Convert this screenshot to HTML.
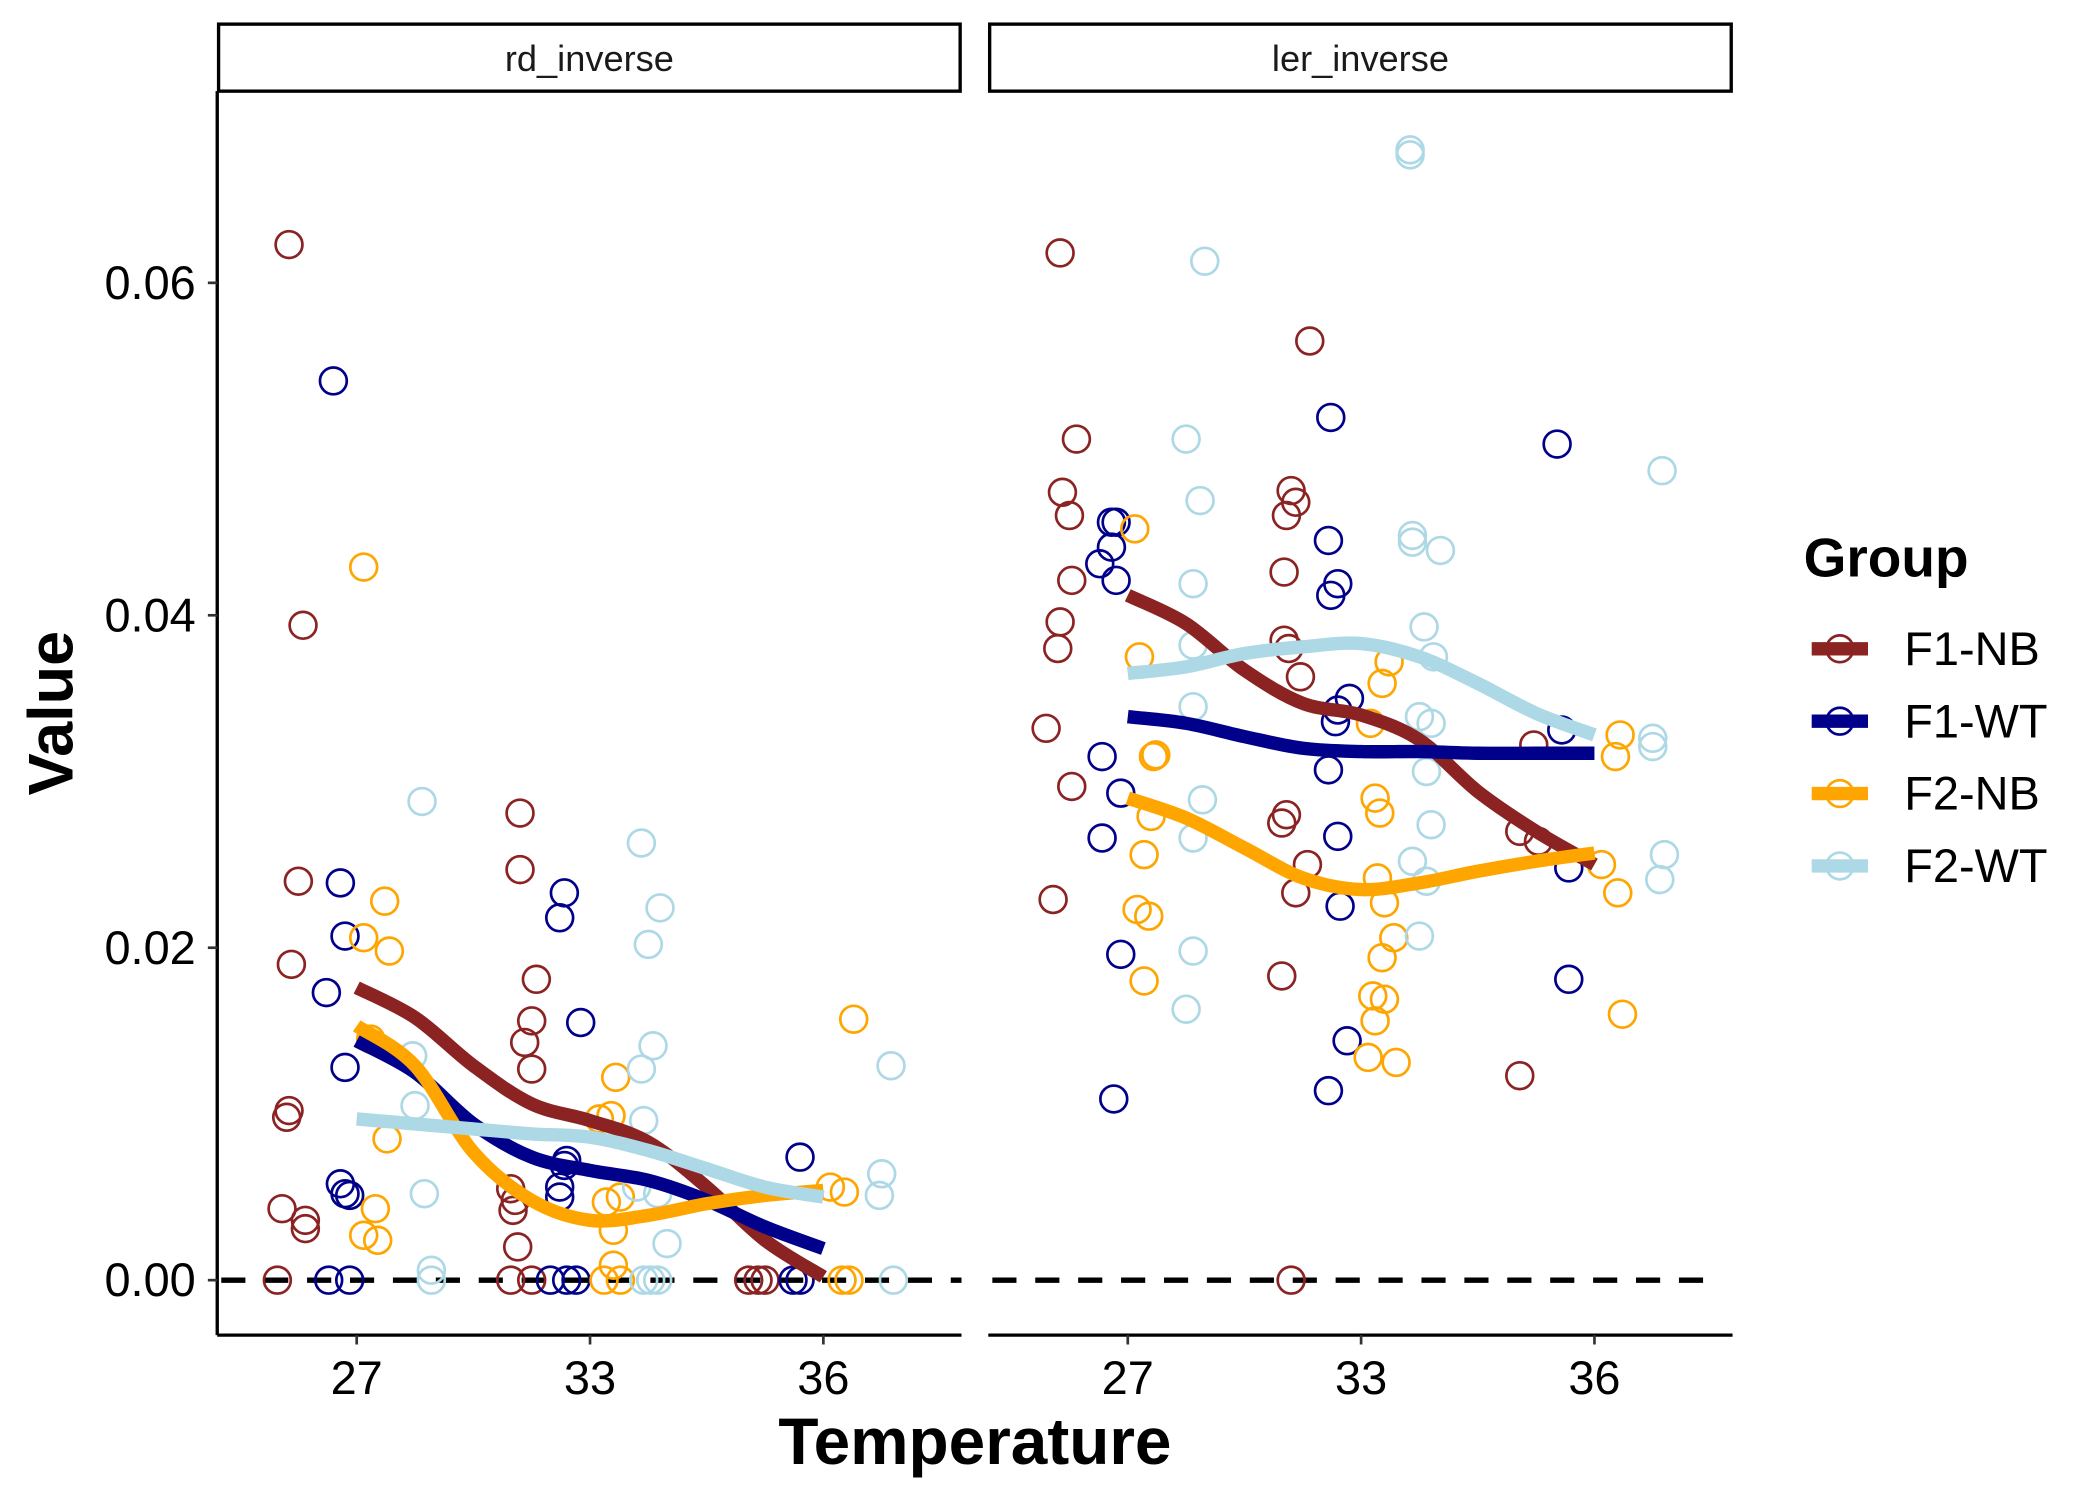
<!DOCTYPE html>
<html><head><meta charset="utf-8"><style>
html,body{margin:0;padding:0;background:#fff;}
svg{display:block;}
text{font-family:"Liberation Sans",sans-serif;}
</style></head><body>
<svg id="chart" width="2100" height="1500" viewBox="0 0 1566 1119" preserveAspectRatio="none" xmlns="http://www.w3.org/2000/svg">
<rect x="0" y="0" width="1566" height="1119" fill="#fff"/>
<g id="g"></g>
</svg>
<script>
const groups = ["F1-NB","F1-WT","F2-NB","F2-WT"];
const colors = ["#8B2323","#00008B","#FFA500","#ADD8E6"];
const panels = ["rd_inverse","ler_inverse"];
const xTickLabels = ["27","33","36"];
const yTicks = [0,0.02,0.04,0.06];
const yTickLabels = ["0.00","0.02","0.04","0.06"];
const smoothX = [1,1.25,1.5,1.75,2,2.25,2.5,2.75,3];

// points: [jittered category position, value]
const rd_F1NB = [[0.71,0.0623],[0.77,0.0394],[0.75,0.0240],[0.72,0.0190],[0.71,0.0102],[0.70,0.0098],[0.68,0.0043],[0.78,0.0036],[0.78,0.0031],[0.66,0],[1.70,0.0281],[1.70,0.0247],[1.77,0.0181],[1.75,0.0156],[1.72,0.0143],[1.75,0.0127],[1.66,0.0055],[1.67,0.0042],[1.68,0.0048],[1.69,0.0020],[1.66,0],[1.75,0],[2.68,0],[2.75,0],[2.72,0]];
const rd_F1WT = [[0.90,0.0541],[0.93,0.0239],[0.95,0.0207],[0.87,0.0173],[0.95,0.0128],[0.93,0.0058],[0.95,0.0052],[0.97,0.0051],[0.88,0],[0.97,0],[1.89,0.0233],[1.87,0.0218],[1.96,0.0155],[1.89,0.0069],[1.87,0.0056],[1.90,0.0072],[1.87,0.0050],[1.83,0],[1.90,0],[1.94,0],[2.90,0.0074],[2.90,0],[2.87,0]];
const rd_F2NB = [[1.03,0.0429],[1.12,0.0228],[1.03,0.0206],[1.14,0.0198],[1.13,0.0085],[1.06,0.0145],[1.08,0.0043],[1.03,0.0027],[1.09,0.0024],[2.11,0.0122],[2.09,0.0099],[2.04,0.0097],[2.07,0.0047],[2.13,0.0050],[2.10,0.0030],[2.06,0],[2.13,0],[2.10,0.0009],[3.13,0.0157],[3.09,0.0053],[3.03,0.0056],[3.11,0],[3.08,0]];
const rd_F2WT = [[1.28,0.0288],[1.25,0.0105],[1.24,0.0135],[1.29,0.0052],[1.32,0.0006],[1.32,0],[2.22,0.0263],[2.25,0.0202],[2.30,0.0224],[2.27,0.0141],[2.22,0.0127],[2.23,0.0096],[2.20,0.0056],[2.29,0.0052],[2.33,0.0022],[2.23,0],[2.29,0],[2.26,0],[3.29,0.0129],[3.25,0.0064],[3.24,0.0051],[3.30,0]];
const ler_F1NB = [[0.71,0.0618],[0.78,0.0506],[0.72,0.0474],[0.75,0.0460],[0.76,0.0421],[0.71,0.0396],[0.70,0.0380],[0.65,0.0332],[0.76,0.0297],[0.68,0.0229],[1.78,0.0565],[1.70,0.0475],[1.68,0.0460],[1.72,0.0468],[1.67,0.0426],[1.67,0.0385],[1.69,0.0380],[1.74,0.0363],[1.66,0.0275],[1.68,0.0280],[1.77,0.0250],[1.72,0.0233],[1.66,0.0183],[1.70,0],[2.68,0.0123],[2.74,0.0322],[2.68,0.0270],[2.76,0.0264]];
const ler_F1WT = [[0.95,0.0456],[0.93,0.0456],[0.93,0.0441],[0.88,0.0431],[0.95,0.0421],[0.89,0.0315],[0.97,0.0293],[0.89,0.0266],[0.97,0.0196],[0.94,0.0109],[1.87,0.0519],[1.86,0.0445],[1.87,0.0412],[1.90,0.0419],[1.95,0.0350],[1.89,0.0336],[1.90,0.0343],[1.86,0.0307],[1.90,0.0267],[1.91,0.0225],[1.94,0.0144],[1.86,0.0114],[2.84,0.0503],[2.86,0.0331],[2.89,0.0248],[2.89,0.0181]];
const ler_F2NB = [[1.03,0.0452],[1.05,0.0375],[1.12,0.0316],[1.11,0.0315],[1.10,0.0279],[1.07,0.0256],[1.04,0.0223],[1.09,0.0219],[1.07,0.0180],[2.12,0.0372],[2.09,0.0359],[2.04,0.0335],[2.06,0.0290],[2.08,0.0281],[2.07,0.0242],[2.10,0.0227],[2.14,0.0206],[2.09,0.0194],[2.05,0.0171],[2.10,0.0169],[2.06,0.0156],[2.03,0.0134],[2.15,0.0131],[3.11,0.0328],[3.09,0.0315],[3.03,0.0250],[3.10,0.0233],[3.12,0.0160]];
const ler_F2WT = [[1.33,0.0613],[1.25,0.0506],[1.31,0.0469],[1.28,0.0419],[1.28,0.0382],[1.28,0.0345],[1.32,0.0289],[1.28,0.0266],[1.28,0.0198],[1.25,0.0163],[2.21,0.0680],[2.21,0.0677],[2.22,0.0448],[2.22,0.0444],[2.34,0.0439],[2.27,0.0393],[2.31,0.0375],[2.25,0.0339],[2.30,0.0335],[2.28,0.0306],[2.30,0.0274],[2.22,0.0252],[2.28,0.0240],[2.25,0.0207],[3.29,0.0487],[3.25,0.0326],[3.25,0.0321],[3.30,0.0256],[3.28,0.0241]];

// smooth fits sampled at smoothX
const rd_S_F1NB = [0.0176,0.0158,0.0129,0.0106,0.0096,0.0083,0.0056,0.0024,0.0002];
const rd_S_F1WT = [0.0144,0.0125,0.0094,0.0074,0.0066,0.0060,0.0048,0.0032,0.0019];
const rd_S_F2NB = [0.0153,0.0129,0.0077,0.0048,0.0036,0.0039,0.0046,0.0051,0.0054];
const rd_S_F2WT = [0.0097,0.0094,0.0091,0.0088,0.0086,0.0078,0.0067,0.0056,0.0050];
const ler_S_F1NB = [0.0412,0.0395,0.0367,0.0347,0.0340,0.0325,0.0294,0.0270,0.0250];
const ler_S_F1WT = [0.0339,0.0335,0.0327,0.0320,0.0318,0.0318,0.0317,0.0317,0.0317];
const ler_S_F2NB = [0.0290,0.0278,0.0260,0.0242,0.0235,0.0239,0.0246,0.0252,0.0257];
const ler_S_F2WT = [0.0365,0.0369,0.0377,0.0381,0.0383,0.0375,0.0359,0.0341,0.0328];

const pointsByPanel = [[rd_F1NB,rd_F1WT,rd_F2NB,rd_F2WT],[ler_F1NB,ler_F1WT,ler_F2NB,ler_F2WT]];
const smoothByPanel = [[rd_S_F1NB,rd_S_F1WT,rd_S_F2NB,rd_S_F2WT],[ler_S_F1NB,ler_S_F1WT,ler_S_F2NB,ler_S_F2WT]];

const NS="http://www.w3.org/2000/svg";
const g=document.getElementById('g');
function el(tag,attrs,parent){const e=document.createElementNS(NS,tag);for(const k in attrs)e.setAttribute(k,attrs[k]);(parent||g).appendChild(e);return e;}
const panelLeft=[162,737], panelW=555, plotTop=68, plotBottom=996;
function xs(p,c){return panelLeft[p]+104+(c-1)*174;}
function ys(v){return 955-v*12400;}
function smoothPath(pts){
  let d="M"+pts[0][0]+","+pts[0][1];
  for(let i=0;i<pts.length-1;i++){
    const p0=pts[Math.max(0,i-1)],p1=pts[i],p2=pts[i+1],p3=pts[Math.min(pts.length-1,i+2)];
    const c1x=p1[0]+(p2[0]-p0[0])/6,c1y=p1[1]+(p2[1]-p0[1])/6;
    const c2x=p2[0]-(p3[0]-p1[0])/6,c2y=p2[1]-(p3[1]-p1[1])/6;
    d+=" C"+c1x+","+c1y+" "+c2x+","+c2y+" "+p2[0]+","+p2[1];
  }
  return d;
}

for(let p=0;p<2;p++){
  const L=panelLeft[p];
  const strip=el('rect',{x:L+1,y:18,width:panelW-2,height:50,fill:'#fff',stroke:'#000','stroke-width':2.5});
  
  
  const st=el('text',{x:L+panelW/2,y:53,'text-anchor':'middle','font-size':27,fill:'#1a1a1a'});
  st.textContent=panels[p];
  
  
  const zl=el('line',{x1:L+3,x2:L+panelW-(p?18:0),y1:ys(0),y2:ys(0),stroke:'#000','stroke-width':4,'stroke-dasharray':'18 14'});
  
  
  for(let k=0;k<4;k++){
    for(const pt of pointsByPanel[p][k]){
      const c=el('circle',{cx:xs(p,pt[0]),cy:ys(pt[1]),r:10,fill:'none',stroke:colors[k],'stroke-width':2});
      
      
    }
  }
  for(let k=0;k<4;k++){
    const pts=smoothX.map((x,i)=>[xs(p,x),ys(smoothByPanel[p][k][i])]);
    const path=el('path',{d:smoothPath(pts),fill:'none',stroke:colors[k],'stroke-width':10});
    
    
  }
  const xa=el('line',{x1:L,x2:L+panelW,y1:plotBottom,y2:plotBottom,stroke:'#000','stroke-width':2.5});
  
  
  for(let i=0;i<3;i++){
    const x=xs(p,i+1);
    const tk=el('line',{x1:x,x2:x,y1:plotBottom,y2:plotBottom+7,stroke:'#333','stroke-width':2});
    
    
    const tl=el('text',{x:x,y:1040,'text-anchor':'middle','font-size':35,fill:'#000'});
    tl.textContent=xTickLabels[i];
    
    
  }
}
const ya=el('line',{x1:162,x2:162,y1:plotTop,y2:plotBottom,stroke:'#000','stroke-width':2.5});


yTicks.forEach((v,i)=>{
  const y=ys(v);
  const tk=el('line',{x1:155,x2:162,y1:y,y2:y,stroke:'#333','stroke-width':2});
  
  
  const tl=el('text',{x:146,y:y+12,'text-anchor':'end','font-size':35,fill:'#000'});
  tl.textContent=yTickLabels[i];
  
  
});
const xt=el('text',{x:727,y:1092,'text-anchor':'middle','font-size':49,'font-weight':'bold',fill:'#000'});
xt.textContent='Temperature';


const yt=el('text',{x:0,y:0,'text-anchor':'middle','font-size':47,'font-weight':'bold',fill:'#000',transform:'translate(54,532) rotate(-90)'});
yt.textContent='Value';


const lt=el('text',{x:1345,y:430,'font-size':41,'font-weight':'bold',fill:'#000'});
lt.textContent='Group';


groups.forEach((gname,k)=>{
  const y=484+k*54;
  const lg=el('g',{});
  
  
  el('line',{x1:1351,x2:1393,y1:y,y2:y,stroke:colors[k],'stroke-width':10},lg);
  el('circle',{cx:1372,cy:y,r:10,fill:'none',stroke:colors[k],'stroke-width':2},lg);
  const t=el('text',{x:1420,y:y+12,'font-size':35,fill:'#000'},lg);
  t.textContent=gname;
});
</script>
</body></html>
